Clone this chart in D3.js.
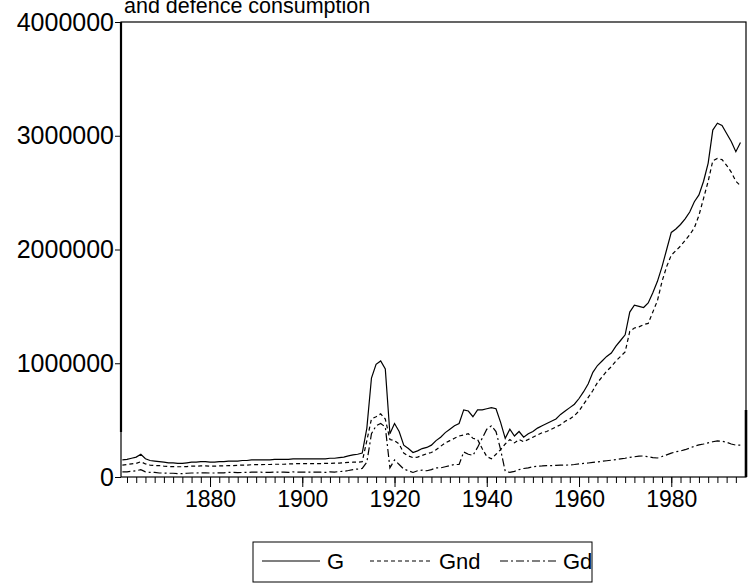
<!DOCTYPE html>
<html>
<head>
<meta charset="utf-8">
<script src="https://cdn.jsdelivr.net/npm/d3@7"></script>
<style>
  body { margin: 0; background: #fff; }
  svg { display: block; font-family: "Liberation Sans", Arial, sans-serif; }
</style>
</head>
<body>
<svg id="chart" width="751" height="584"></svg>
<script>
// years 1861-1995, values in thousands
var startYear = 1861;
var G = [150,155,165,175,200,160,145,140,135,130,
  125,125,120,120,125,130,130,135,135,130,
  130,135,135,140,140,140,145,145,150,150,
  150,150,150,155,155,155,155,160,160,160,
  160,160,160,160,160,165,165,170,175,185,
  195,200,210,430,870,990,1020,950,380,470,
  400,280,250,215,230,250,260,280,320,350,
  390,420,450,470,590,580,530,590,590,600,
  610,600,480,340,420,360,400,350,380,400,
  430,450,470,490,510,550,580,610,640,690,
  750,820,920,980,1020,1060,1090,1150,1200,1250,
  1450,1510,1500,1490,1530,1620,1720,1850,2000,2150,
  2180,2220,2270,2330,2420,2480,2600,2760,3050,3110,
  3090,3020,2950,2860,2940];
var Gnd = [105,110,115,120,135,115,105,100,100,95,
  92,92,90,90,92,95,95,98,98,95,
  95,98,98,100,100,102,105,105,108,108,
  108,110,110,112,112,112,115,115,118,118,
  118,118,118,118,120,120,122,122,125,128,
  130,130,135,320,510,530,555,510,330,320,
  290,210,185,170,175,190,205,215,240,270,
  300,320,340,360,370,380,340,330,250,180,
  160,200,240,290,330,300,330,310,330,350,
  370,390,400,420,440,460,490,510,540,580,
  640,700,760,830,880,930,970,1020,1060,1100,
  1280,1310,1320,1340,1350,1450,1550,1720,1850,1950,
  1990,2030,2080,2130,2190,2300,2450,2600,2780,2800,
  2790,2740,2680,2600,2560];
var Gd = [45,45,50,55,65,45,40,40,35,35,
  33,33,30,30,33,35,35,37,37,35,
  35,37,37,40,40,38,40,40,42,42,
  42,40,40,43,43,43,40,45,42,42,
  42,42,42,42,40,45,43,48,50,57,
  65,70,75,130,380,450,470,440,80,150,
  110,70,55,40,55,60,55,65,80,80,
  90,100,110,110,220,200,190,260,340,420,
  450,400,240,50,40,50,65,75,80,90,
  95,97,100,100,102,104,105,106,110,115,
  120,123,128,133,138,143,148,153,159,165,
  172,178,183,185,178,170,167,180,195,210,
  222,229,240,255,270,282,290,300,310,317,
  315,305,290,280,280];
var yTicks = [0, 1000000, 2000000, 3000000, 4000000];
var xTicks = [1880, 1900, 1920, 1940, 1960, 1980];
var seriesNames = ["G", "Gnd", "Gd"];
var titleText = "and defence consumption";

var svg = d3.select("#chart");
var m = { left: 121, right: 746, top: 22, bottom: 477 };

var x = d3.scaleLinear().domain([1860.7, 1996.2]).range([m.left, m.right]);
var y = d3.scaleLinear().domain([0, 4000000]).range([m.bottom, m.top]);

var dashes = { "G": null, "Gnd": "4,3", "Gd": "8,3,2,3" };
var allSeries = { "G": G, "Gnd": Gnd, "Gd": Gd };

// title (its first line is cut off in the original)
svg.append("text")
  .attr("x", 124).attr("y", 13)
  .attr("font-size", 21.5)
  .text(titleText);

// frame
svg.append("rect")
  .attr("x", m.left).attr("y", m.top)
  .attr("width", m.right - m.left).attr("height", m.bottom - m.top)
  .attr("fill", "none").attr("stroke", "#000").attr("stroke-width", 1.2);
svg.append("line")
  .attr("x1", m.left).attr("x2", m.left).attr("y1", m.top).attr("y2", m.bottom - 45)
  .attr("stroke", "#000").attr("stroke-width", 2.2);
svg.append("line")
  .attr("x1", m.right).attr("x2", m.right).attr("y1", m.bottom - 67).attr("y2", m.bottom)
  .attr("stroke", "#000").attr("stroke-width", 2.6);

// y axis
var yAxis = d3.axisLeft(y).tickValues(yTicks).tickSize(6).tickPadding(1)
  .tickFormat(d3.format("d"));
var gy = svg.append("g").attr("transform", "translate(" + m.left + ",0)").call(yAxis);
gy.select(".domain").remove();
gy.selectAll("text").attr("font-size", 25).attr("font-family", "Liberation Sans, Arial, sans-serif")
  .attr("fill", "#000");

// x axis: minor ticks every 2 years, labels every 20
var minor = d3.range(1862, 1996, 2);
var gxm = svg.append("g").attr("transform", "translate(0," + m.bottom + ")")
  .call(d3.axisBottom(x).tickValues(minor).tickSize(6).tickFormat(""));
gxm.select(".domain").remove();
var gx = svg.append("g").attr("transform", "translate(0," + m.bottom + ")")
  .call(d3.axisBottom(x).tickValues(xTicks).tickSize(10).tickPadding(4).tickFormat(d3.format("d")));
gx.select(".domain").remove();
gx.selectAll("text").attr("font-size", 23).attr("font-family", "Liberation Sans, Arial, sans-serif")
  .attr("fill", "#000");

// lines
var line = d3.line()
  .x(function(d, i) { return x(startYear + i); })
  .y(function(d) { return y(d * 1000); });

seriesNames.forEach(function(name) {
  svg.append("path")
    .datum(allSeries[name])
    .attr("d", line)
    .attr("fill", "none")
    .attr("stroke", "#000")
    .attr("stroke-width", 1.2)
    .attr("stroke-dasharray", dashes[name]);
});

// legend
var lg = svg.append("g");
lg.append("rect")
  .attr("x", 253).attr("y", 542).attr("width", 339).attr("height", 40)
  .attr("fill", "none").attr("stroke", "#000").attr("stroke-width", 1);
var legendItems = [
  { name: "G", x1: 262, x2: 320, tx: 327 },
  { name: "Gnd", x1: 370, x2: 430, tx: 439 },
  { name: "Gd", x1: 500, x2: 556, tx: 563 }
];
legendItems.forEach(function(it) {
  lg.append("line")
    .attr("x1", it.x1).attr("x2", it.x2).attr("y1", 561).attr("y2", 561)
    .attr("stroke", "#000").attr("stroke-width", 1.2)
    .attr("stroke-dasharray", dashes[it.name]);
  lg.append("text")
    .attr("x", it.tx).attr("y", 569)
    .attr("font-size", 22)
    .text(it.name);
});
</script>
</body>
</html>
